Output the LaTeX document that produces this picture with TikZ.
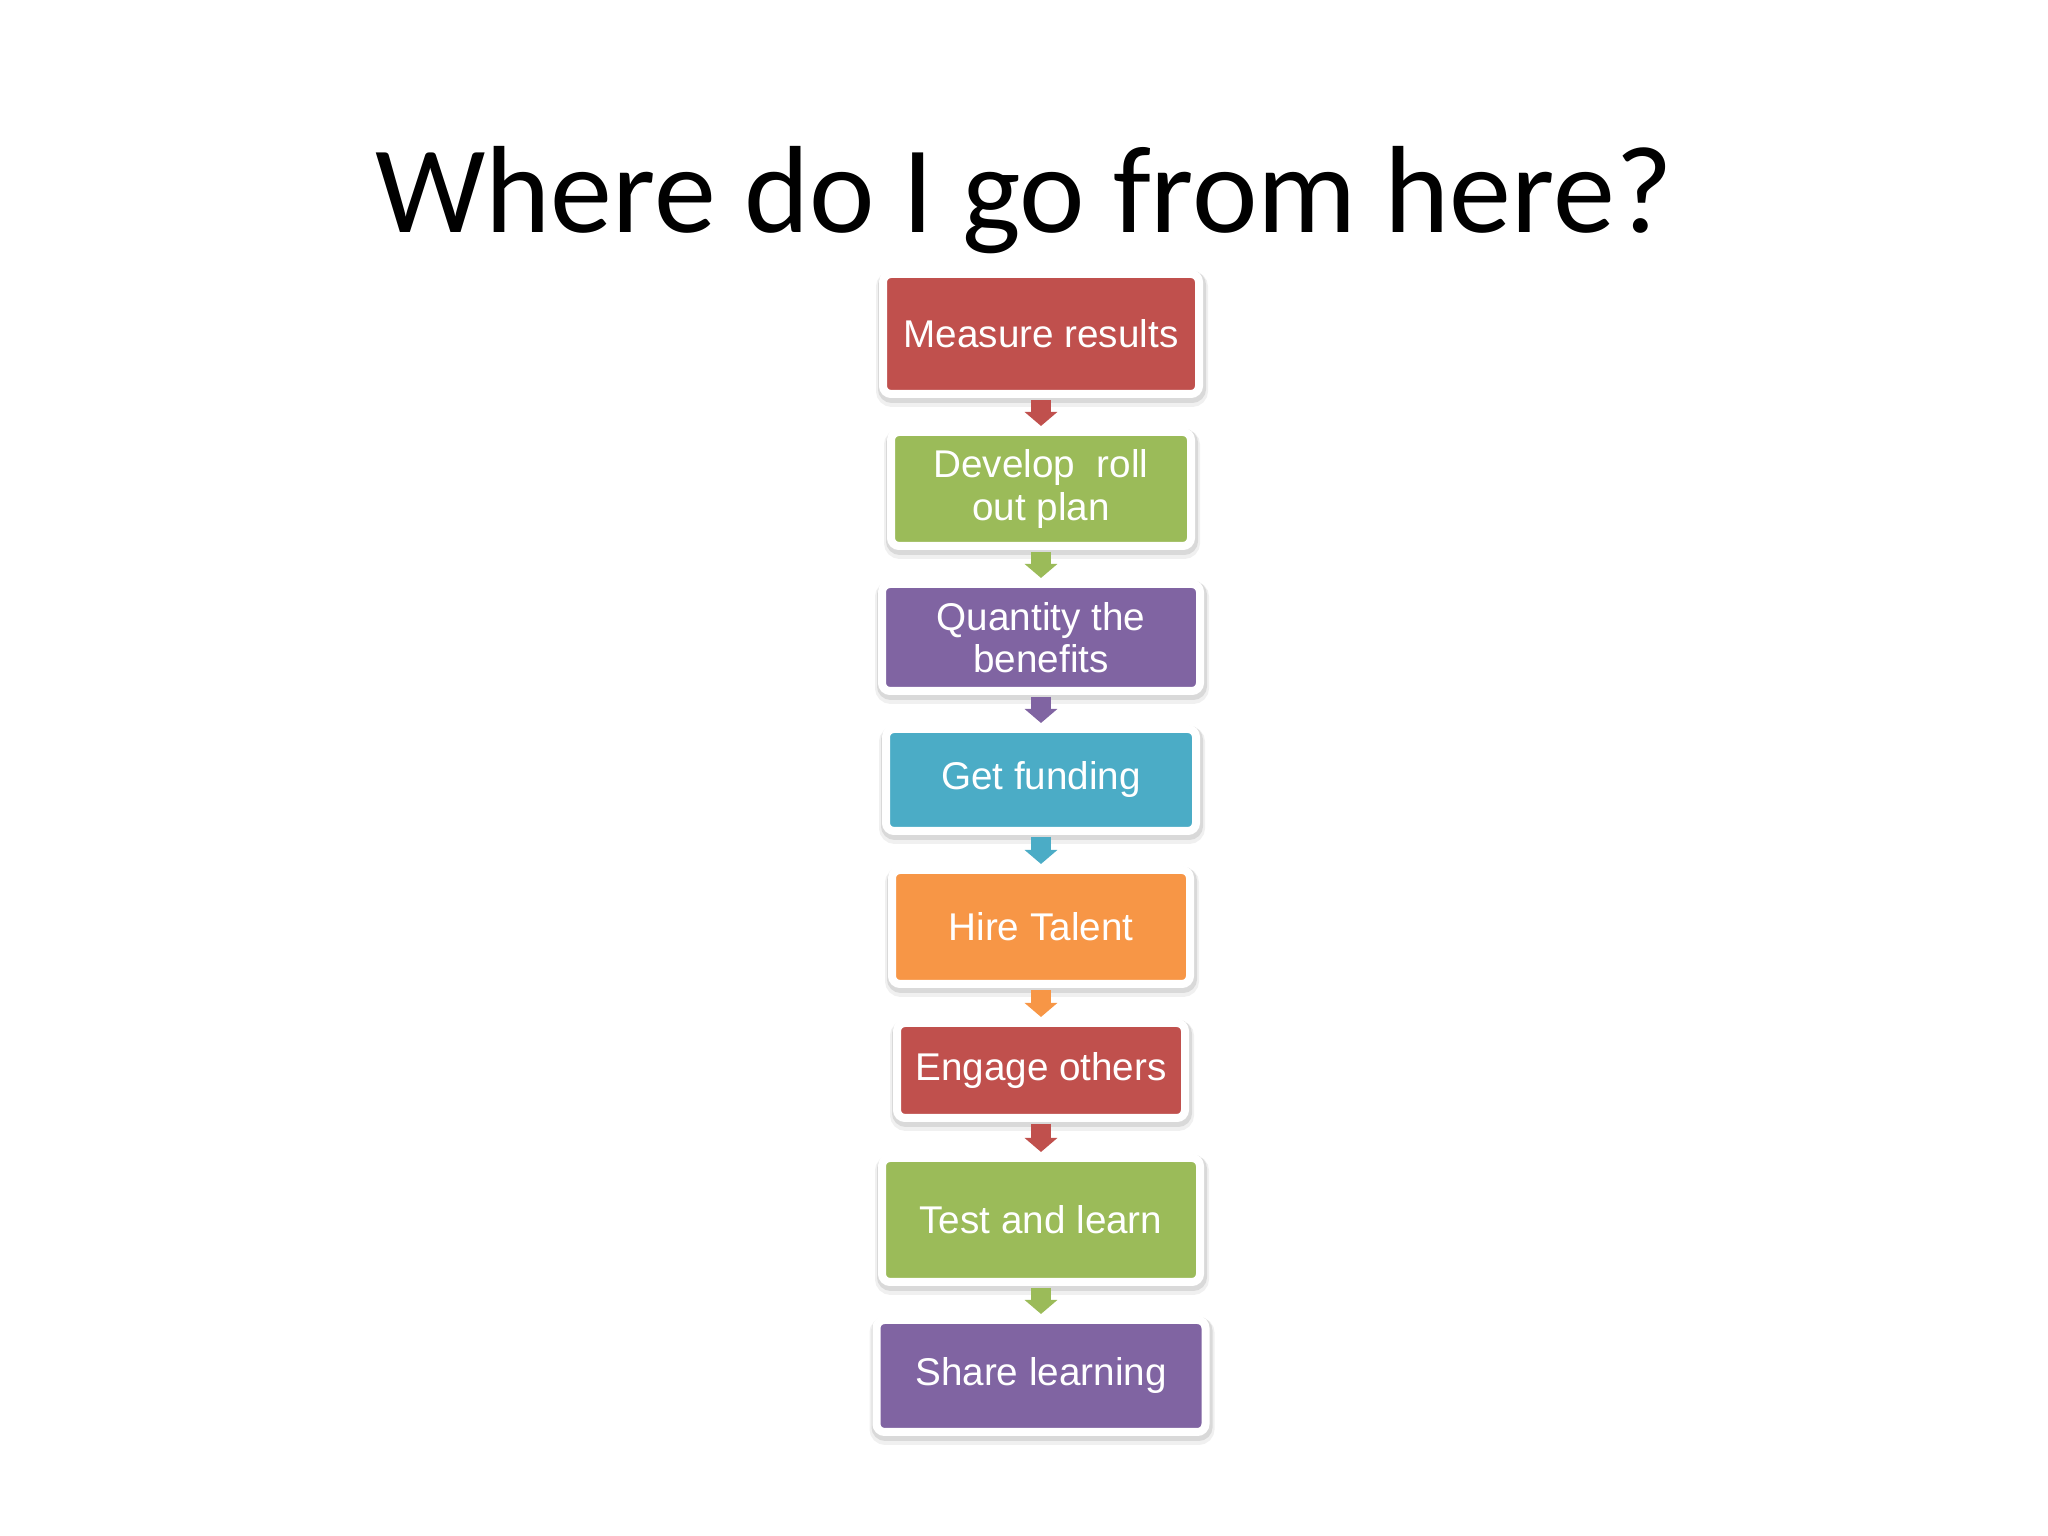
\documentclass[tikz,border=0pt]{standalone}
\usepackage{fontspec}
\setmainfont{Liberation Sans}
\newfontfamily\titlefont{Carlito}
\usetikzlibrary{arrows.meta}

\definecolor{stepred}{HTML}{C0504D}
\definecolor{stepgreen}{HTML}{9BBB59}
\definecolor{steppurple}{HTML}{8064A2}
\definecolor{stepteal}{HTML}{4BACC6}
\definecolor{steporange}{HTML}{F79646}

\tikzset{
  stepbox/.style={draw=white, line width=0.08cm, rounded corners=0.08cm,
    text=white, align=center, inner sep=0pt,
    font=\fontsize{11}{12}\selectfont,
    % soft shadow under the white frame
    preaction={draw=black!6, fill=black!6, line width=0.16cm,
      transform canvas={shift={(0.01cm,-0.05cm)}}},
    preaction={draw=black!15, fill=black!15, line width=0.12cm,
      transform canvas={shift={(0.01cm,-0.03cm)}}}},
  flowarrow/.style={line width=0.20cm, shorten <=0.02cm, shorten >=0.02cm,
    -{Triangle[width=0.32cm, length=0.14cm]}}
}

\begin{document}
\begin{tikzpicture}

\useasboundingbox (0,0) rectangle (20.48,15.36);

% title
\node [anchor=base, font=\titlefont\fontsize{35.3}{38}\selectfont] (title) at (10.24, 13.03) {Where do I go from here?};

% boxes
\node [stepbox, fill=stepred, minimum width=3.16cm, minimum height=1.20cm] (measure) at (10.41, 12.02) {Measure results};
\node [stepbox, fill=stepgreen, minimum width=3.00cm, minimum height=1.14cm] (develop) at (10.41, 10.47) {Develop\ \ roll\\out plan};
\node [stepbox, fill=steppurple, minimum width=3.18cm, minimum height=1.07cm] (quantity) at (10.41, 8.985) {Quantity the\\benefits};
\node [stepbox, fill=stepteal, minimum width=3.10cm, minimum height=1.02cm] (funding) at (10.41, 7.56) {Get funding};
\node [stepbox, fill=steporange, minimum width=2.98cm, minimum height=1.14cm] (hire) at (10.41, 6.09) {Hire Talent};
\node [stepbox, fill=stepred, minimum width=2.88cm, minimum height=0.95cm] (engage) at (10.41, 4.655) {Engage others};
\node [stepbox, fill=stepgreen, minimum width=3.18cm, minimum height=1.24cm] (test) at (10.41, 3.16) {Test and learn};
\node [stepbox, fill=steppurple, minimum width=3.29cm, minimum height=1.12cm] (share) at (10.41, 1.60) {Share learning};

% arrows
\draw [flowarrow, stepred] (measure) -- (develop);
\draw [flowarrow, stepgreen] (develop) -- (quantity);
\draw [flowarrow, steppurple] (quantity) -- (funding);
\draw [flowarrow, stepteal] (funding) -- (hire);
\draw [flowarrow, steporange] (hire) -- (engage);
\draw [flowarrow, stepred] (engage) -- (test);
\draw [flowarrow, stepgreen] (test) -- (share);

\end{tikzpicture}
\end{document}
